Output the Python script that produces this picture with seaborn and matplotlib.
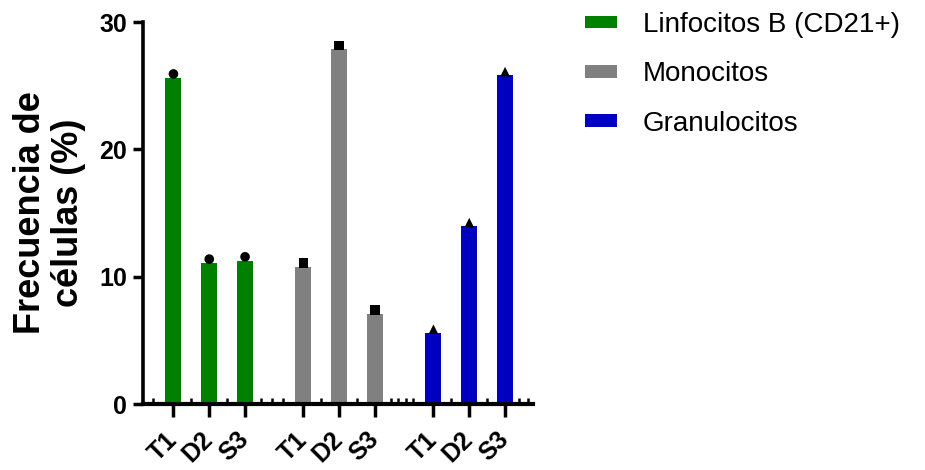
import numpy as np
import pandas as pd
import matplotlib
matplotlib.use("Agg")
import matplotlib.pyplot as plt
import matplotlib.transforms as mtransforms
from matplotlib.patches import Patch
import seaborn as sns

# Cell populations and time points
cell_types = ["Linfocitos B (CD21+)", "Monocitos", "Granulocitos"]
time_points = ["T1", "D2", "S3"]

# Bar heights (group means, %)
bar_linfocitos = [25.6, 11.05, 11.2]
bar_monocitos = [10.75, 27.85, 7.1]
bar_granulocitos = [5.6, 13.98, 25.84]

# Individual values shown as points above each bar (%)
pts_linfocitos = [25.92, 11.38, 11.56]
pts_monocitos = [11.05, 28.15, 7.38]
pts_granulocitos = [5.87, 14.24, 26.1]

colors = {"Linfocitos B (CD21+)": "#008000",
          "Monocitos": "#808080",
          "Granulocitos": "#0000c0"}
markers = {"Linfocitos B (CD21+)": "o",
           "Monocitos": "s",
           "Granulocitos": "^"}

# Layout: bars one unit apart inside a group, extra space between groups
group_gap = 0.63
bars = [bar_linfocitos, bar_monocitos, bar_granulocitos]
pts = [pts_linfocitos, pts_monocitos, pts_granulocitos]
rows = []
for g, ct in enumerate(cell_types):
    for i, tp in enumerate(time_points):
        rows.append({"cell": ct, "time": tp,
                     "pos": g * (len(time_points) + group_gap) + i,
                     "bar": bars[g][i], "point": pts[g][i]})
df = pd.DataFrame(rows)

sns.set_style("ticks")
plt.rcParams["font.family"] = ["Liberation Sans", "DejaVu Sans"]
plt.rcParams["text.color"] = "black"
plt.rcParams["axes.labelcolor"] = "black"
plt.rcParams["xtick.color"] = "black"
plt.rcParams["ytick.color"] = "black"

fig = plt.figure(figsize=(9.25, 4.70), dpi=100)
ax = fig.add_axes([143 / 925, 1 - 404 / 470, (533 - 143) / 925, (404 - 22) / 470])

sns.barplot(data=df, x="pos", y="bar", hue="cell", palette=colors,
            native_scale=True, width=0.45, dodge=False, linewidth=0,
            saturation=1, errorbar=None, legend=False, ax=ax)
sns.scatterplot(data=df, x="pos", y="point", style="cell", markers=markers,
                color="black", s=48, linewidth=0, legend=False, ax=ax, zorder=5)

ax.set_ylim(0, 30)
ax.set_xlim(-0.85, 10.04)
ax.set_yticks([0, 10, 20, 30])
ax.set_yticklabels(["0", "10", "20", "30"], fontsize=18, fontweight="bold")
ax.set_xticks(df["pos"])
ax.set_xticklabels(df["time"], fontsize=18, fontweight="bold",
                   rotation=45, ha="right", rotation_mode="anchor", va="center")
shift = mtransforms.ScaledTranslation(6 / 100, 0, fig.dpi_scale_trans)
for lbl in ax.get_xticklabels():
    lbl.set_transform(lbl.get_transform() + shift)

# Small inward marks along the baseline between bars and groups
pos = df["pos"].to_numpy()
minor = [pos[0] - 0.57]
for g in range(len(cell_types)):
    p = pos[g * 3:(g + 1) * 3]
    minor += list((p[:-1] + p[1:]) / 2)
    if g < len(cell_types) - 1:
        nxt = pos[(g + 1) * 3]
        n = 3 if g == 0 else 4
        minor += list(np.linspace(p[-1] + 0.45, nxt - 0.57, n))
minor += [pos[-1] + 0.4, pos[-1] + 0.65]
ax.set_xticks(minor, minor=True)

ax.tick_params(axis="x", which="major", direction="out", length=9, width=2.5,
               pad=14)
ax.tick_params(axis="x", which="minor", direction="in", length=4.5, width=1.8)
ax.tick_params(axis="y", which="major", direction="out", length=7.5, width=2.5,
               pad=4)

for side in ["top", "right"]:
    ax.spines[side].set_visible(False)
ax.spines["left"].set_linewidth(2.6)
ax.spines["bottom"].set_linewidth(3.0)
ax.spines["left"].set_color("black")
ax.spines["bottom"].set_color("black")

ax.set_xlabel("")
ax.set_ylabel("Frecuencia de\ncélulas (%)", fontsize=26, fontweight="bold",
              linespacing=1.12)
ax.yaxis.set_label_coords(-0.145, 0.5)

handles = [Patch(facecolor=colors[c], edgecolor="none") for c in cell_types]
fig.legend(handles, cell_types, loc="upper left",
           bbox_to_anchor=(585 / 925, 1 - 12 / 470), frameon=False,
           fontsize=20, handlelength=1.15, handleheight=0.32,
           handletextpad=0.93, labelspacing=0.84, borderpad=0,
           borderaxespad=0, labelcolor="black")

fig.savefig("out.png", dpi=100, facecolor="white")
